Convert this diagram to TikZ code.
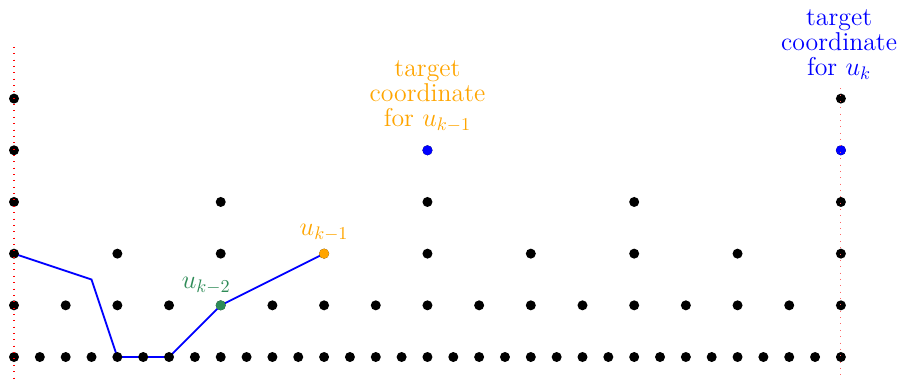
\documentclass[tikz,border=0pt]{standalone}
\usetikzlibrary{calc}
\definecolor{myorange}{RGB}{255,165,0}
\definecolor{mygreen}{RGB}{46,139,87}
\pgfdeclarelayer{bg}
\pgfsetlayers{bg,main}
\begin{document}
\begin{tikzpicture}[x=0.5cm,y=1cm,
  dot/.style={circle,fill=black,inner sep=0pt,minimum size=5.5pt},
  lbl/.style={align=center,font=\fontsize{14.2}{13.8}\selectfont,inner sep=1pt},
  guide/.style={red,dash pattern=on 0.5pt off 3pt,line width=0.6pt},
  pathline/.style={blue,line width=1pt}]
\useasboundingbox (-0.542,-0.445) rectangle (34.248,6.908);
% grid of dots
\foreach \r in {0,...,5}{
  \pgfmathtruncatemacro{\st}{2^\r}
  \foreach \i in {0,...,32}{
    \pgfmathtruncatemacro{\m}{mod(\i,\st)}
    \ifnum\m=0
      \node[dot] (d-\i-\r) at (\i,\r) {};
    \fi
  }
}
% coloured dots
\node[dot,fill=blue] (t1) at (16,4) {};
\node[dot,fill=blue] (t2) at (32,4) {};
\node[dot,fill=mygreen] (g) at (8,1) {};
\node[dot,fill=myorange] (o) at (12,2) {};
% path
\coordinate (bend) at (3,1.5);
\begin{pgfonlayer}{bg}
\draw[pathline] (d-0-2.center) -- (bend) -- (d-4-0.center) -- (d-6-0.center) -- (g.center) -- (o.center);
\end{pgfonlayer}
% guides
\coordinate (lt) at (0,6.0);
\coordinate (lb) at (0,-0.445);
\coordinate (rt) at (32,5.2);
\coordinate (rb) at (32,-0.445);
\draw[guide] (lt) -- (lb);
\draw[guide,red!60] (rt) -- (rb);
% labels
\node[lbl,text=mygreen,anchor=south,xshift=-8pt] (lg) at ([yshift=2pt]g.north) {$u_{k-2}$};
\node[lbl,text=myorange,anchor=south] (lo) at ([yshift=3pt]o.north) {$u_{k-1}$};
\node[lbl,text=myorange,anchor=south] (lt1) at ([yshift=6pt]t1.north) {target\\coordinate\\for $u_{k-1}$};
\node[lbl,text=blue,anchor=south] (lt2) at ([yshift=6.5pt,xshift=-1pt]d-32-5.north) {target\\coordinate\\for $u_{k}$};
\end{tikzpicture}
\end{document}
